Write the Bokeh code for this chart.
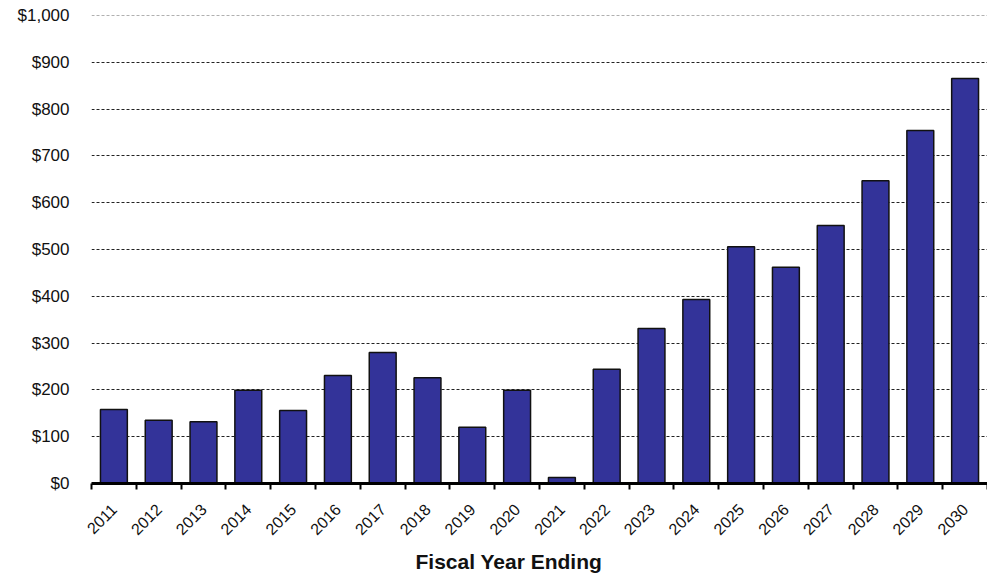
import math
from bokeh.plotting import figure
from bokeh.models import (ColumnDataSource, Range1d, FixedTicker, NumeralTickFormatter,
                          Grid, LinearAxis, Title)
from bokeh.embed import file_html
from bokeh.resources import INLINE

years = ["2011", "2012", "2013", "2014", "2015", "2016", "2017", "2018", "2019", "2020",
         "2021", "2022", "2023", "2024", "2025", "2026", "2027", "2028", "2029", "2030"]
values = [158, 135, 132, 199, 156, 231, 280, 226, 120, 199,
          13, 244, 331, 393, 506, 462, 551, 647, 754, 865]
y_ticks = [0, 100, 200, 300, 400, 500, 600, 700, 800, 900, 1000]

n = len(years)
xpos = list(range(n))
src = ColumnDataSource(dict(x=xpos, top=values, year=years))

p = figure(width=987, height=576, output_backend="svg", toolbar_location=None,
           x_range=Range1d(-0.5, n - 0.5), y_range=Range1d(0, 1002),
           x_axis_location=None, y_axis_location=None,
           min_border_left=91, min_border_right=0, min_border_top=14, min_border_bottom=0)
p.outline_line_color = None
p.xgrid.visible = False
p.ygrid.visible = False

g = Grid(dimension=1, ticker=FixedTicker(ticks=y_ticks[1:-1]),
         grid_line_color="#222222", grid_line_dash="3 2", grid_line_width=1)
p.add_layout(g)
g2 = Grid(dimension=1, ticker=FixedTicker(ticks=[y_ticks[-1]]),
          grid_line_color="#b0b0b0", grid_line_dash="3 2", grid_line_width=1)
p.add_layout(g2)

p.vbar(x="x", top="top", bottom=0, width=0.6, source=src,
       fill_color="#333399", line_color="#111111", line_width=1.5)

ya = LinearAxis(ticker=FixedTicker(ticks=y_ticks),
                formatter=NumeralTickFormatter(format="$0,0"))
ya.axis_line_color = None
ya.major_tick_line_color = None
ya.minor_tick_line_color = None
ya.major_label_standoff = 16
ya.major_label_text_font = "Liberation Sans"
ya.major_label_text_font_size = "17px"
ya.major_label_text_color = "#111111"
p.add_layout(ya, "left")

xa = LinearAxis(ticker=FixedTicker(ticks=xpos, minor_ticks=[i - 0.5 for i in range(n + 1)]))
xa.major_label_overrides = {i: y for i, y in zip(xpos, years)}
xa.major_label_orientation = math.pi / 4
xa.axis_line_color = "black"
xa.axis_line_width = 3
xa.major_tick_line_color = None
xa.major_tick_out = 0
xa.major_tick_in = 0
xa.minor_tick_line_color = "black"
xa.minor_tick_line_width = 2
xa.minor_tick_out = 6
xa.minor_tick_in = 0
xa.major_label_standoff = 17
xa.major_label_text_font = "Liberation Sans"
xa.major_label_text_font_size = "16px"
xa.major_label_text_color = "#111111"
p.add_layout(xa, "below")

t = Title(text="Fiscal Year Ending", align="left", offset=324,
          text_font="Liberation Sans", text_font_style="bold",
          text_font_size="21px", text_color="#111111", standoff=8)
p.add_layout(t, "below")

open("out.html", "w").write(file_html(p, INLINE))
